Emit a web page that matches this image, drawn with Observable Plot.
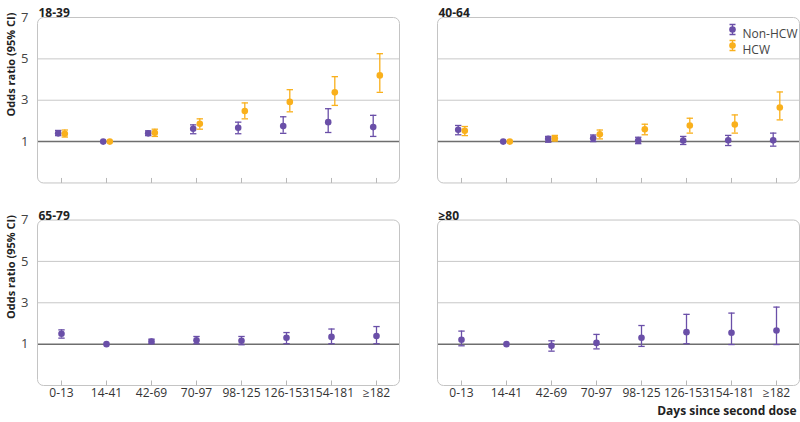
<!DOCTYPE html>
<html><head><meta charset="utf-8">
<script src="https://cdn.jsdelivr.net/npm/d3@7"></script>
<script src="https://cdn.jsdelivr.net/npm/@observablehq/plot@0.6"></script>
<style>body{margin:0;background:#fff}</style>
</head><body><div id="chart"></div>
<script>
const categories = ["0-13","14-41","42-69","70-97","98-125","126-153","154-181","≥182"];
const ageGroups = ["18-39","40-64","65-79","≥80"];
const yTicks = [1, 3, 5, 7];

const nonHcw1839   = [1.40, 1, 1.40, 1.62, 1.67, 1.75, 1.94, 1.70];
const nonHcw1839Lo = [1.29, null, 1.29, 1.38, 1.38, 1.40, 1.44, 1.25];
const nonHcw1839Hi = [1.54, null, 1.52, 1.81, 1.94, 2.20, 2.59, 2.27];
const hcw1839      = [1.38, 1, 1.43, 1.86, 2.48, 2.92, 3.38, 4.20];
const hcw1839Lo    = [1.22, null, 1.25, 1.60, 2.10, 2.44, 2.75, 3.38];
const hcw1839Hi    = [1.56, null, 1.60, 2.10, 2.87, 3.51, 4.14, 5.25];

const nonHcw4064   = [1.57, 1, 1.13, 1.16, 1.05, 1.05, 1.06, 1.06];
const nonHcw4064Lo = [1.33, null, 0.97, 1.00, 0.90, 0.86, 0.81, 0.78];
const nonHcw4064Hi = [1.78, null, 1.25, 1.32, 1.21, 1.25, 1.30, 1.41];
const hcw4064      = [1.52, 1, 1.16, 1.35, 1.60, 1.78, 1.83, 2.65];
const hcw4064Lo    = [1.29, null, 1.03, 1.13, 1.33, 1.41, 1.41, 2.05];
const hcw4064Hi    = [1.73, null, 1.30, 1.56, 1.84, 2.13, 2.29, 3.40];

const nonHcw6579   = [1.50, 1, 1.13, 1.19, 1.16, 1.31, 1.35, 1.39];
const nonHcw6579Lo = [1.29, null, 1.03, 1.02, 0.97, 1.02, 1.02, 1.02];
const nonHcw6579Hi = [1.69, null, 1.24, 1.37, 1.37, 1.56, 1.73, 1.85];

const nonHcw80     = [1.21, 1, 0.92, 1.06, 1.31, 1.58, 1.55, 1.66];
const nonHcw80Lo   = [0.92, null, 0.66, 0.77, 0.89, 1.02, 0.98, 0.98];
const nonHcw80Hi   = [1.63, null, 1.16, 1.47, 1.90, 2.44, 2.50, 2.79];

const PURPLE = "#6a4fa8", ORANGE = "#f9b01c";

const rows = [];
function addSeries(age, group, or, lo, hi) {
  const k = ageGroups.indexOf(age);
  categories.forEach((c, i) => rows.push({age, group, cat: c, or: or[i], lo: lo[i], hi: hi[i], col: k % 2, row: Math.floor(k / 2)}));
}
addSeries("18-39", "Non-HCW", nonHcw1839, nonHcw1839Lo, nonHcw1839Hi);
addSeries("18-39", "HCW", hcw1839, hcw1839Lo, hcw1839Hi);
addSeries("40-64", "Non-HCW", nonHcw4064, nonHcw4064Lo, nonHcw4064Hi);
addSeries("40-64", "HCW", hcw4064, hcw4064Lo, hcw4064Hi);
addSeries("65-79", "Non-HCW", nonHcw6579, nonHcw6579Lo, nonHcw6579Hi);
addSeries("≥80", "Non-HCW", nonHcw80, nonHcw80Lo, nonHcw80Hi);

const panels = ageGroups.map((age, k) => ({age, col: k % 2, row: Math.floor(k / 2)}));

const capSymbol = {draw(ctx, size) { const r = Math.sqrt(size / Math.PI); ctx.moveTo(-r, 0); ctx.lineTo(r, 0); }};
const upTickSymbol = {draw(ctx, size) { const r = Math.sqrt(size / Math.PI); ctx.moveTo(0, 0); ctx.lineTo(0, -r); }};
const whiskerSymbol = {draw(ctx, size) { const r = Math.sqrt(size / Math.PI); const w = r * 0.6;
  ctx.moveTo(0, -r); ctx.lineTo(0, r); ctx.moveTo(-w, -r); ctx.lineTo(w, -r); ctx.moveTo(-w, r); ctx.lineTo(w, r); }};

function seriesMarks(data, color, dx) {
  const ci = data.filter(d => d.lo != null);
  return [
    Plot.ruleX(ci, {x: "cat", y1: "lo", y2: "hi", fx: "col", fy: "row", stroke: color, strokeWidth: 1.3, dx}),
    Plot.dot(ci, {x: "cat", y: "lo", fx: "col", fy: "row", symbol: capSymbol, r: 3.2, stroke: color, strokeWidth: 1.3, fill: "none", dx}),
    Plot.dot(ci, {x: "cat", y: "hi", fx: "col", fy: "row", symbol: capSymbol, r: 3.2, stroke: color, strokeWidth: 1.3, fill: "none", dx}),
    Plot.dot(data, {x: "cat", y: "or", fx: "col", fy: "row", r: 3.3, fill: color, stroke: "none", dx})
  ];
}

const topNon = rows.filter(d => d.row === 0 && d.group === "Non-HCW");
const topHcw = rows.filter(d => d.row === 0 && d.group === "HCW");
const botNon = rows.filter(d => d.row === 1);

const legendPanel = [{col: 1, row: 0}];
const FONT = "Open Sans";

const chart = Plot.plot({
  width: 800, height: 422,
  marginLeft: 37, marginRight: 1, marginTop: 17, marginBottom: 37,
  style: {fontFamily: FONT, background: "#fff", color: "#333"},
  fx: {domain: [0, 1], axis: null, paddingInner: 0.095, paddingOuter: 0, round: false},
  fy: {domain: [0, 1], axis: null, paddingInner: 0.183, paddingOuter: 0, round: false},
  x: {type: "point", domain: categories, padding: 0.5},
  y: {domain: [-1, 7]},
  marks: [
    Plot.gridY([3, 5], {stroke: "#c8c8c8", strokeOpacity: 1, strokeWidth: 1}),
    Plot.ruleY([1], {stroke: "#6e6e6e", strokeWidth: 1.5}),
    Plot.frame({rx: 6, stroke: "#c4c4c4", strokeWidth: 1}),
    Plot.dot(categories, {x: d => d, frameAnchor: "bottom", symbol: upTickSymbol, r: 5, stroke: "#b8b8b8", strokeWidth: 1, fill: "none"}),
    Plot.axisX({facetAnchor: "bottom", tickSize: 0, tickPadding: 3, label: null, fontSize: 12, fill: "#333"}),
    Plot.axisY({ticks: yTicks, facetAnchor: "left", tickSize: 0, tickPadding: 9, label: null, fontSize: 13, fill: "#444"}),
    Plot.text(panels, {fx: "col", fy: "row", text: "age", frameAnchor: "top-left", textAnchor: "start", dx: 1, dy: -9, fontWeight: "bold", fontSize: 12, fill: "#222"}),
    Plot.text(panels.filter(p => p.col === 0), {fx: "col", fy: "row", text: () => "Odds ratio (95% CI)", frameAnchor: "top-left", rotate: -90, textAnchor: "end", dx: -30, dy: -5, fontWeight: "bold", fontSize: 11, fill: "#222"}),
    Plot.text([{col: 1, row: 1}], {fx: "col", fy: "row", text: () => "Days since second dose", frameAnchor: "bottom-right", textAnchor: "end", dx: -3, dy: 29, fontWeight: "bold", fontSize: 12, fill: "#222"}),
    ...seriesMarks(topNon, PURPLE, -3.3),
    ...seriesMarks(topHcw, ORANGE, 3.3),
    ...seriesMarks(botNon, PURPLE, 0),
    Plot.dot(legendPanel, {fx: "col", fy: "row", frameAnchor: "top-right", dx: -67, dy: 12, symbol: whiskerSymbol, r: 5, stroke: PURPLE, strokeWidth: 1.3, fill: "none"}),
    Plot.dot(legendPanel, {fx: "col", fy: "row", frameAnchor: "top-right", dx: -67, dy: 12, r: 3.3, fill: PURPLE}),
    Plot.dot(legendPanel, {fx: "col", fy: "row", frameAnchor: "top-right", dx: -67, dy: 28, symbol: whiskerSymbol, r: 5, stroke: ORANGE, strokeWidth: 1.3, fill: "none"}),
    Plot.dot(legendPanel, {fx: "col", fy: "row", frameAnchor: "top-right", dx: -67, dy: 28, r: 3.3, fill: ORANGE}),
    Plot.text(legendPanel, {fx: "col", fy: "row", text: () => "Non-HCW", frameAnchor: "top-right", textAnchor: "start", dx: -57, dy: 12, fontSize: 12, fill: "#444"}),
    Plot.text(legendPanel, {fx: "col", fy: "row", text: () => "HCW", frameAnchor: "top-right", textAnchor: "start", dx: -57, dy: 28, fontSize: 12, fill: "#444"})
  ]
});
document.getElementById("chart").append(chart);
</script>
</body></html>
